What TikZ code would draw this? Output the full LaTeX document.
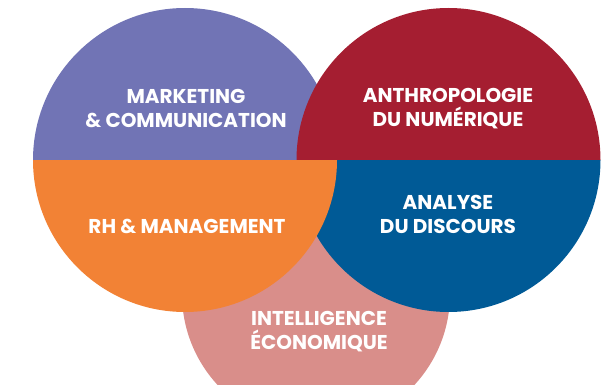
\documentclass[tikz,border=0pt]{standalone}
\usepackage{fontspec}
\setmainfont{Poppins}
\definecolor{mktcol}{HTML}{7174B5}
\definecolor{anthrocol}{HTML}{A51E31}
\definecolor{rhcol}{HTML}{F28235}
\definecolor{discol}{HTML}{005A96}
\definecolor{intelcol}{HTML}{D98E8A}
\tikzset{
  fieldname/.style={text=white, font=\bfseries\fontsize{20}{24}\selectfont, align=center, inner sep=0pt}
}
\begin{document}
\begin{tikzpicture}[x=1pt,y=1pt]
    \useasboundingbox (0,0) rectangle (608,384);

    % bottom circle, behind the others
    \fill[intelcol] (316,90) circle (134);

    % left and right circles, cut in two halves
    \fill[mktcol] (33,224) arc (180:0:152) -- cycle;
    \fill[anthrocol] (296.5,224) arc (180:0:152) -- cycle;
    \fill[discol] (296.5,224) arc (180:360:152) -- cycle;
    \fill[rhcol] (33,224) arc (180:360:152) -- cycle;

    \node[fieldname] (mkt) at (186,275) {MARKETING\\\& COMMUNICATION};
    \node[fieldname] (anthro) at (448,275) {ANTHROPOLOGIE\\DU NUMÉRIQUE};
    \node[fieldname] (rh) at (187,158) {RH \& MANAGEMENT};
    \node[fieldname] (discours) at (448,170) {ANALYSE\\DU DISCOURS};
    \node[fieldname] (intel) at (319,52) {INTELLIGENCE\\ÉCONOMIQUE};
\end{tikzpicture}
\end{document}
